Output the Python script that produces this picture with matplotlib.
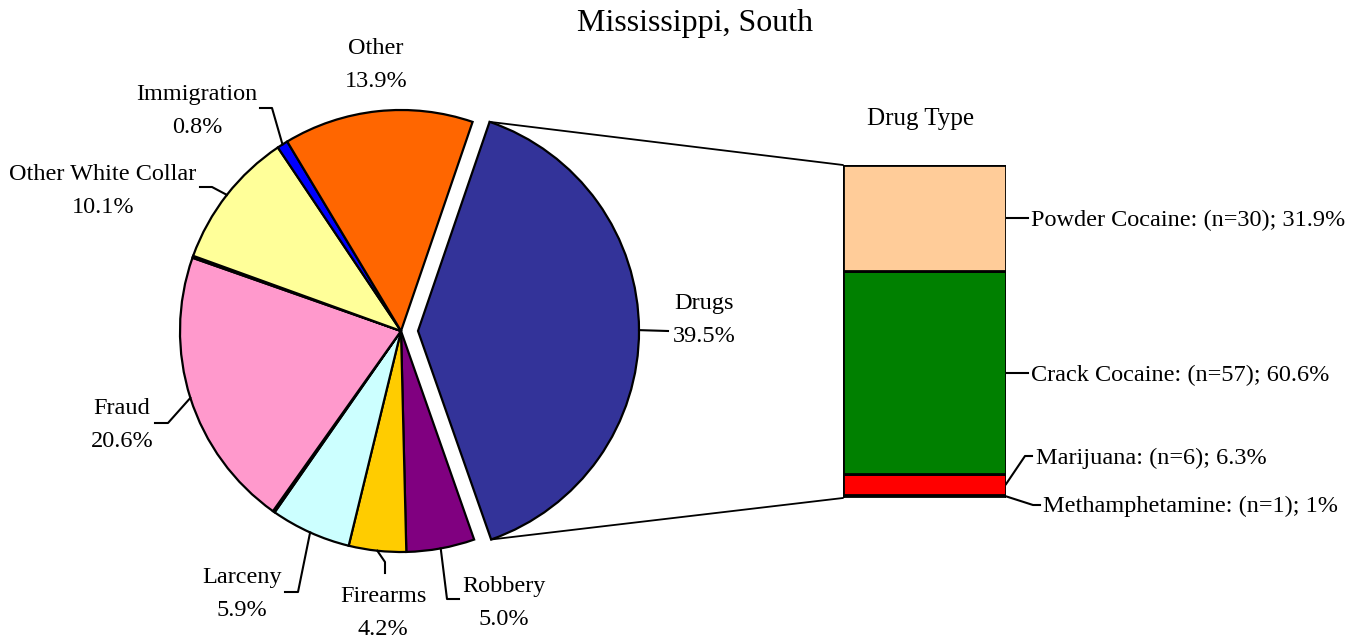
import numpy as np
import matplotlib
matplotlib.use('Agg')
from matplotlib import pyplot as plt
from matplotlib.patches import ConnectionPatch

plt.rcParams['font.family'] = ['Liberation Serif', 'DejaVu Serif']

# offense shares, clockwise from Drugs
offenses = ['Drugs', 'Robbery', 'Firearms', 'Larceny', '', 'Fraud', '',
            'Other White Collar', 'Immigration', 'Other']
shares = [39.5, 5.0, 4.2, 5.9, 0.15, 20.6, 0.15, 10.1, 0.8, 13.9]
colors = ['#333399', '#800080', '#FFCC00', '#CCFFFF', '#FFFFFF', '#FF99CC',
          '#FFFFFF', '#FFFF99', '#0000FF', '#FF6600']

# drug type breakdown, bottom to top
drug_types = ['Methamphetamine', 'Marijuana', 'Crack Cocaine', 'Powder Cocaine']
drug_n = [1, 6, 57, 30]
drug_pct = [1, 6.3, 60.6, 31.9]
drug_colors = ['#CCFFCC', '#FF0000', '#008000', '#FFCC99']

W, H = 1359, 638
fig = plt.figure(figsize=(W / 100, H / 100), dpi=100)
ax = fig.add_axes([0, 0, 1, 1])

def Y(y):
    return H - y

cx, cy, r = 401, Y(331), 221
# matplotlib offsets exploded wedges in data units
explode = [17] + [0] * (len(shares) - 1)
wedges, _ = ax.pie(shares, colors=colors, startangle=71.1, counterclock=False,
                   center=(cx, cy), radius=r, explode=explode,
                   wedgeprops=dict(edgecolor='black', linewidth=1.6))
ax.set_xlim(0, W)
ax.set_ylim(0, H)
ax.set_aspect('equal')
ax.axis('off')

def edge_pt(w, ang=None):
    if ang is None:
        ang = (w.theta1 + w.theta2) / 2
    a = np.deg2rad(ang)
    return w.center[0] + w.r * np.cos(a), w.center[1] + w.r * np.sin(a)

# label placement (image px): text centre, leader path after the wedge edge
label_pos = {
    'Drugs': ((704, 320), [(668, 331)]),
    'Robbery': ((504, 603), [(447, 599), (459, 599)]),
    'Firearms': ((383, 613), [(385, 562), (385, 573)]),
    'Larceny': ((242, 594), [(298, 592), (285, 592)]),
    'Fraud': ((122, 425), [(168, 423), (155, 423)]),
    'Other White Collar': ((103, 191), [(212, 187), (200, 187)]),
    'Immigration': ((197, 111), [(272, 108), (260, 108)]),
    'Other': ((376, 65), []),
}
fs = 17.5
for w, name, s in zip(wedges, offenses, shares):
    if not name:
        continue
    (tx, ty), path = label_pos[name]
    ax.text(tx, Y(ty), f'{name}\n{s:.1f}%', ha='center', va='center',
            fontsize=fs, linespacing=1.7)
    if path:
        px, py = edge_pt(w)
        xs = [px] + [p[0] for p in path]
        ys = [py] + [Y(p[1]) for p in path]
        ax.plot(xs, ys, color='black', lw=1.5)

fig.text(695 / W, 1 - 24 / H, 'Mississippi, South', ha='center', va='center',
         fontsize=23)

# stacked bar for drug types
bx0, bx1, by0, by1 = 843, 1006, 165, 498
ax2 = fig.add_axes([bx0 / W, (H - by1) / H, (bx1 - bx0) / W, (by1 - by0) / H])
bottoms = np.concatenate([[0], np.cumsum(drug_pct)[:-1]])
ax2.bar(0, drug_pct, bottom=bottoms, width=1, color=drug_colors,
        edgecolor='black', linewidth=2)
ax2.set_xlim(-0.5, 0.5)
ax2.set_ylim(0, sum(drug_pct))
ax2.axis('off')

ax.text(921, Y(119), 'Drug Type', ha='center', va='center', fontsize=18)

def to_main(x, y):
    return ax.transData.inverted().transform(ax2.transData.transform((x, y)))

bar_label_pos = {
    'Powder Cocaine': ((1031, 220), [(1028, None)]),
    'Crack Cocaine': ((1031, 375), [(1028, None)]),
    'Marijuana': ((1036, 458), [(1025, 456), (1032, 456)]),
    'Methamphetamine': ((1043, 506), [(1033, 505), (1040, 505)]),
}
for name, n, p, b in zip(drug_types, drug_n, drug_pct, bottoms):
    (tx, ty), path = bar_label_pos[name]
    ax.text(tx, Y(ty), f'{name}: (n={n}); {p:g}%', ha='left', va='center',
            fontsize=fs)
    sx, sy = to_main(0.5, b + p / 2)
    xs, ys = [sx], [sy]
    for px, py in path:
        xs.append(px)
        ys.append(sy if py is None else Y(py))
    ax.plot(xs, ys, color='black', lw=1.5)

# connector lines from exploded Drugs slice to bar
dw = wedges[0]
for ang, yb in [(dw.theta2, sum(drug_pct)), (dw.theta1, 0)]:
    con = ConnectionPatch(xyA=edge_pt(dw, ang), coordsA=ax.transData,
                          xyB=(-0.5, yb), coordsB=ax2.transData,
                          color='black', lw=1.3)
    fig.add_artist(con)

fig.savefig('out.png', dpi=100)
